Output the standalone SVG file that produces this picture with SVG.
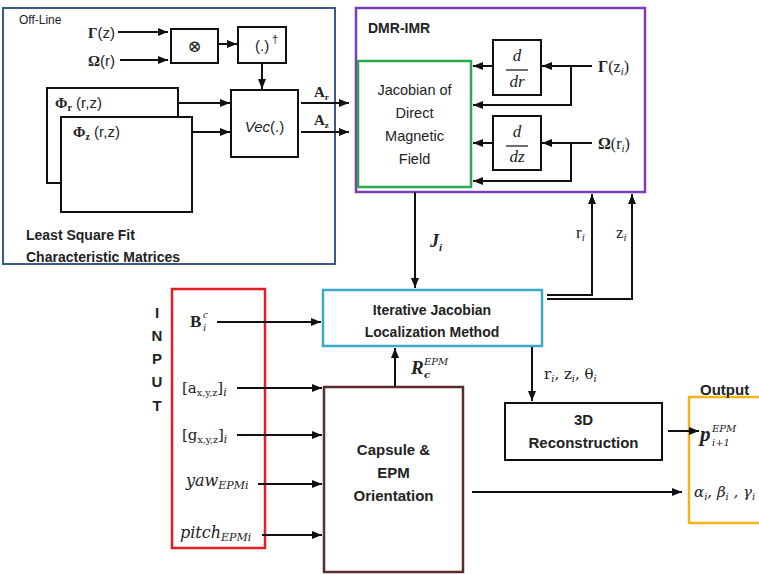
<svg xmlns="http://www.w3.org/2000/svg" width="759" height="574" viewBox="0 0 759 574">
<defs>
<marker id="ah" markerWidth="10" markerHeight="8" refX="10" refY="4" orient="auto" markerUnits="userSpaceOnUse">
<path d="M0,0 L10,4 L0,8 z" fill="#111"/>
</marker>
<style>
.box{fill:#fff;stroke:#111;stroke-width:2}
.ln{fill:none;stroke:#111;stroke-width:2}
.ar{fill:none;stroke:#111;stroke-width:2;marker-end:url(#ah)}
.s{font-family:"Liberation Sans",Arial,sans-serif;fill:#222}
.b{font-weight:bold}
.m{font-family:"Liberation Serif","DejaVu Serif",serif;fill:#222}
.d{font-family:"DejaVu Serif","Liberation Serif",serif;fill:#222}
.i{font-style:italic}
</style>
</defs>
<rect width="759" height="574" fill="#fff"/>

<!-- Containers -->
<g id="offline">
<rect x="3" y="8" width="332" height="256" fill="none" stroke="#3b5a8a" stroke-width="2"/>
<text class="s" x="19" y="24" font-size="12">Off-Line</text>
<text class="s b" x="26" y="240" font-size="14">Least Square Fit</text>
<text class="s b" x="26" y="262" font-size="14">Characteristic Matrices</text>
</g>
<g id="dmr">
<rect x="356" y="8" width="289" height="184" fill="none" stroke="#7b3db5" stroke-width="2.5"/>
<text class="s b" x="368" y="33" font-size="14">DMR-IMR</text>
</g>

<!-- Off-line nodes -->
<g id="gamma_z"><text x="88" y="38" font-size="15"><tspan class="m b">Γ</tspan><tspan class="s">(z)</tspan></text></g>
<g id="omega_r"><text x="88" y="66" font-size="15"><tspan class="m b">Ω</tspan><tspan class="s">(r)</tspan></text></g>
<g id="kron"><rect class="box" x="171" y="29" width="47" height="34"/><text class="m" x="194.5" y="52" font-size="17" text-anchor="middle">⊗</text></g>
<g id="pinv"><rect class="box" x="238" y="27" width="48" height="36"/><text class="s" x="255" y="51" font-size="15">(.)</text><text class="s" x="272" y="43" font-size="11">†</text></g>
<g id="vec"><rect class="box" x="231" y="90" width="67" height="67"/><text x="264.5" y="132" font-size="15" text-anchor="middle" class="s"><tspan class="i">Vec</tspan>(.)</text></g>
<g id="phi_r"><rect class="box" x="47" y="88" width="131" height="95"/><text x="55" y="108" font-size="15"><tspan class="m b">Φ</tspan><tspan class="m b" font-size="10" dy="3">r</tspan><tspan class="s" dy="-3"> (r,z)</tspan></text></g>
<g id="phi_z"><rect class="box" x="61" y="117" width="131" height="95"/><text x="73" y="137" font-size="15"><tspan class="m b">Φ</tspan><tspan class="m b" font-size="10" dy="3">z</tspan><tspan class="s" dy="-3"> (r,z)</tspan></text></g>

<!-- DMR nodes -->
<g id="jacobian"><rect x="358" y="61" width="113" height="126" fill="#fff" stroke="#2da84e" stroke-width="2.5"/>
<text class="s" font-size="14.5" text-anchor="middle"><tspan x="414.5" y="95">Jacobian of</tspan><tspan x="414.5" y="118">Direct</tspan><tspan x="414.5" y="141">Magnetic</tspan><tspan x="414.5" y="164">Field</tspan></text></g>
<g id="ddr"><rect class="box" x="493" y="40" width="48" height="55"/><text class="m i" x="517" y="61" font-size="17" text-anchor="middle">d</text><line x1="506" y1="70" x2="528" y2="70" stroke="#222" stroke-width="1.3"/><text class="m i" x="517" y="87" font-size="17" text-anchor="middle">dr</text></g>
<g id="ddz"><rect class="box" x="493" y="116" width="48" height="54"/><text class="m i" x="517" y="137" font-size="17" text-anchor="middle">d</text><line x1="506" y1="146" x2="528" y2="146" stroke="#222" stroke-width="1.3"/><text class="m i" x="517" y="162" font-size="17" text-anchor="middle">dz</text></g>
<g id="gamma_zi"><text x="598" y="72" font-size="16" class="m"><tspan class="b">Γ</tspan>(z<tspan class="i" font-size="11" dy="3">i</tspan><tspan dy="-3">)</tspan></text></g>
<g id="omega_ri"><text x="598" y="149" font-size="16" class="m"><tspan class="b">Ω</tspan>(r<tspan class="i" font-size="11" dy="3">i</tspan><tspan dy="-3">)</tspan></text></g>

<!-- Main flow -->
<g id="ijlm"><rect x="323" y="290" width="219" height="56" fill="#fff" stroke="#3aa9c9" stroke-width="2.5"/>
<text class="s b" font-size="14" text-anchor="middle"><tspan x="432" y="315">Iterative Jacobian</tspan><tspan x="432" y="337">Localization Method</tspan></text></g>
<g id="input"><rect x="172" y="289" width="93" height="259" fill="none" stroke="#e31e24" stroke-width="2.5"/>
<text class="s b" font-size="15" text-anchor="middle"><tspan x="157" y="318">I</tspan><tspan x="157" y="341">N</tspan><tspan x="157" y="364">P</tspan><tspan x="157" y="387">U</tspan><tspan x="157" y="411">T</tspan></text>
<text class="m b" x="190" y="327" font-size="17">B</text><text class="m i" x="203" y="331" font-size="11">i</text><text class="m i" x="203" y="318" font-size="11">c</text>
<text class="d" x="182" y="393" font-size="15">[a<tspan font-size="9.5" dy="3">x,y,z</tspan><tspan dy="-3">]</tspan><tspan class="i" font-size="11" dy="3">i</tspan></text>
<text class="d" x="182" y="440" font-size="15">[g<tspan font-size="9.5" dy="3">x,y,z</tspan><tspan dy="-3">]</tspan><tspan class="i" font-size="11" dy="3">i</tspan></text>
<text class="d i" x="186" y="486" font-size="16">yaw<tspan font-size="11" dy="3">EPMi</tspan></text>
<text class="d i" x="180" y="538" font-size="16">pitch<tspan font-size="11" dy="3">EPMi</tspan></text>
</g>
<g id="capsule"><rect x="324" y="387" width="139" height="185" fill="#fff" stroke="#5c2b2b" stroke-width="2.5"/>
<text class="s b" font-size="15" text-anchor="middle"><tspan x="393.5" y="455">Capsule &amp;</tspan><tspan x="393.5" y="478">EPM</tspan><tspan x="393.5" y="501">Orientation</tspan></text></g>
<g id="recon"><rect class="box" x="505" y="403" width="157" height="57"/>
<text class="s b" font-size="15" text-anchor="middle"><tspan x="583.5" y="425">3D</tspan><tspan x="583.5" y="448">Reconstruction</tspan></text></g>
<g id="output"><rect x="689" y="397" width="80" height="126" fill="none" stroke="#f2b515" stroke-width="2.5"/>
<text class="s b" x="700" y="395" font-size="15">Output</text>
<text class="m b i" x="700" y="441" font-size="21">p</text><text class="d i" x="712" y="446" font-size="10">i+1</text><text class="d i" x="712" y="432" font-size="10">EPM</text>
<text class="d i" x="694" y="497" font-size="15">α<tspan font-size="10" dy="3">i</tspan><tspan dy="-3">, β</tspan><tspan font-size="10" dy="3">i</tspan><tspan dy="-3"> , γ</tspan><tspan font-size="10" dy="3">i</tspan></text>
</g>

<!-- Connectors -->
<g id="connectors">
<line class="ar" x1="118" y1="32" x2="168" y2="32"/>
<line class="ar" x1="120" y1="60" x2="168" y2="60"/>
<line class="ar" x1="218" y1="44" x2="237" y2="44"/>
<line class="ar" x1="262" y1="63" x2="262" y2="89"/>
<line class="ar" x1="178" y1="103" x2="230" y2="103"/>
<line class="ar" x1="192" y1="132" x2="230" y2="132"/>
<line class="ar" x1="301" y1="103" x2="349" y2="103"/>
<line class="ar" x1="301" y1="132" x2="349" y2="132"/>
<text class="m b" x="314" y="97" font-size="15">A<tspan font-size="9" dy="3">r</tspan></text>
<text class="m b" x="314" y="125" font-size="15">A<tspan font-size="9" dy="3">z</tspan></text>

<line class="ar" x1="592" y1="66" x2="542" y2="66"/>
<polyline class="ar" points="571,66 571,105 473,105"/>
<line class="ar" x1="493" y1="66" x2="473" y2="66"/>
<line class="ar" x1="592" y1="143" x2="542" y2="143"/>
<polyline class="ar" points="571,143 571,181 473,181"/>
<line class="ar" x1="493" y1="143" x2="473" y2="143"/>

<line class="ar" x1="415" y1="192" x2="415" y2="288"/>
<text class="m b i" x="430" y="247" font-size="18">J<tspan font-size="11" dy="4">i</tspan></text>

<polyline class="ar" points="547,295 592,295 592,194"/>
<polyline class="ar" points="547,299 632,299 632,194"/>
<text class="m" x="576" y="238" font-size="17">r<tspan class="i" font-size="11" dy="3">i</tspan></text>
<text class="m" x="616" y="238" font-size="17">z<tspan class="i" font-size="11" dy="3">i</tspan></text>

<line class="ar" x1="217" y1="322" x2="321" y2="322"/>
<line class="ar" x1="237" y1="388" x2="322" y2="388"/>
<line class="ar" x1="237" y1="435" x2="322" y2="435"/>
<line class="ar" x1="258" y1="484" x2="322" y2="484"/>
<line class="ar" x1="262" y1="535" x2="322" y2="535"/>

<line class="ar" x1="395" y1="387" x2="395" y2="348"/>
<text class="m b i" x="411" y="374" font-size="19">R</text><text class="d b i" x="424" y="378" font-size="10">c</text><text class="d i" x="424" y="365" font-size="10">EPM</text>

<line class="ar" x1="532" y1="347" x2="532" y2="401"/>
<text class="d" x="544" y="379" font-size="15">r<tspan class="i" font-size="10" dy="3">i</tspan><tspan dy="-3">, z</tspan><tspan class="i" font-size="10" dy="3">i</tspan><tspan dy="-3">, θ</tspan><tspan class="i" font-size="10" dy="3">i</tspan></text>

<line class="ar" x1="668" y1="431" x2="699" y2="431"/>
<line class="ar" x1="472" y1="492" x2="682" y2="492"/>
</g>
</svg>
